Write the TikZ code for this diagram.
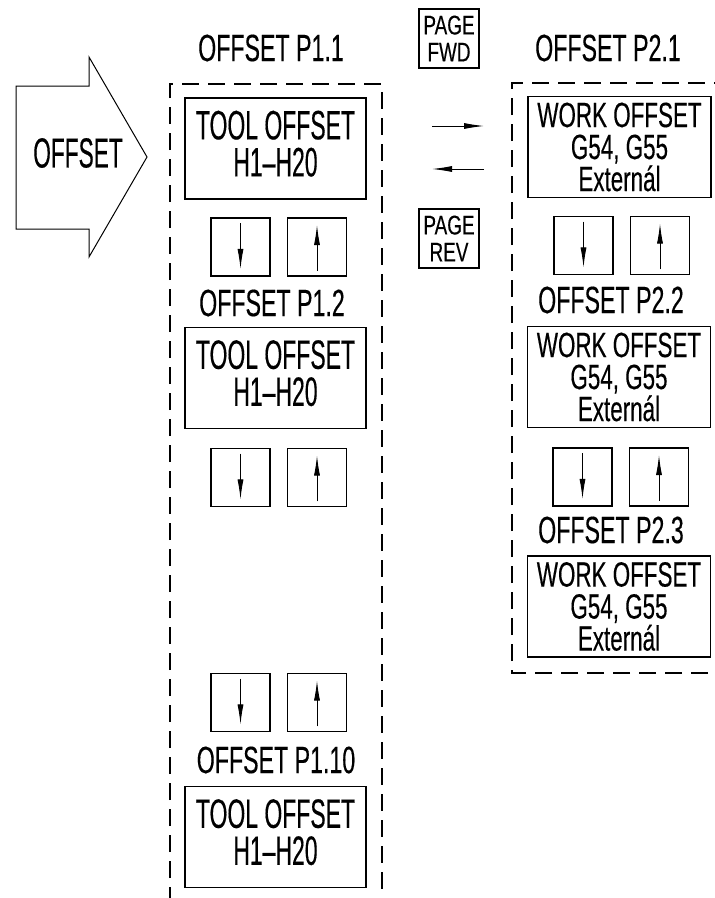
\documentclass[tikz,border=0pt]{standalone}
\usepackage{fontspec}
\setmainfont{Liberation Sans}
\newfontfamily\ftitle{Liberation Sans}[FakeStretch=0.61,FakeBold=0.3]
\newfontfamily\ftool{Liberation Sans}[FakeStretch=0.56,FakeBold=0.3]
\newfontfamily\fwork{Liberation Sans}[FakeStretch=0.64,FakeBold=0.3]
\newfontfamily\fpage{Liberation Sans}[FakeStretch=0.70,FakeBold=0.3]
\newfontfamily\fbig{Liberation Sans}[FakeStretch=0.54,FakeBold=0.3]
\usetikzlibrary{arrows.meta}
\newcommand\fsz[2]{\fontsize{#1}{#2}\selectfont}
\tikzset{
  title/.style={inner sep=0pt, font=\ftitle\fsz{38pt}{40pt}},
  bigtext/.style={inner sep=0pt, font=\fbig\fsz{42pt}{44pt}},
  toolbox/.style={draw, line width=1.8pt, minimum width=181pt, minimum height=101pt, inner sep=0pt, text depth=10pt, align=center, font=\ftool\fsz{41pt}{37pt}},
  workbox/.style={draw, line width=1.8pt, minimum width=183pt, minimum height=101pt, inner sep=0pt, align=center, font=\fwork\fsz{35pt}{32pt}},
  keybox/.style={draw, line width=1.8pt, minimum width=59pt, minimum height=58pt, inner sep=0pt},
  pagebox/.style={draw, line width=1.8pt, minimum width=60pt, minimum height=59pt, inner sep=0pt, align=center, font=\fpage\fsz{27pt}{27pt}},
  grp/.style={line width=1.5pt, dash pattern=on 17pt off 9pt},
  keyarrow/.style={line width=0.9pt, -{Latex[length=20pt,width=6pt]}},
  pagearrow/.style={line width=0.9pt, -{Latex[length=20pt,width=6pt]}},
}
\begin{document}
\begin{tikzpicture}[x=1pt,y=-1pt]
\clip (0,0) rectangle (715,898);
\fill[white] (0,0) rectangle (715,898);
% big OFFSET arrow
\draw[line width=1pt] (16,86) -- (89,86) -- (89,57) -- (147,157) -- (89,257) -- (89,229) -- (16,229) -- cycle;
\node[bigtext] (offs) at (78,153) {OFFSET};
% group frames
\draw[grp] (170,930) -- (170,84) -- (382,84) -- (382,930);
\draw[grp] (760,673) -- (512,673) -- (512,83) -- (760,83);
% left column
\node[title] (t11) at (271,48) {OFFSET P1.1};
\node[toolbox] (b11) at (275.5,148.5) {TOOL OFFSET\\H1–H20};
\node[keybox] (d11) at (240.5,247) {};
\node[keybox] (u11) at (317,247) {};
\node[title] (t12) at (272,303) {OFFSET P1.2};
\node[toolbox] (b12) at (275.5,378) {TOOL OFFSET\\H1–H20};
\node[keybox] (d12) at (240.5,477.5) {};
\node[keybox] (u12) at (317,477.5) {};
\node[keybox] (d13) at (240.5,702.5) {};
\node[keybox] (u13) at (317,702.5) {};
\node[title] (t110) at (276,760) {OFFSET P1.10};
\node[toolbox] (b110) at (275.5,837) {TOOL OFFSET\\H1–H20};
% right column
\node[title] (t21) at (608,48) {OFFSET P2.1};
\node[workbox] (b21) at (619.5,147) {WORK OFFSET\\G54, G55\\Externál};
\node[keybox] (d21) at (583.5,245.5) {};
\node[keybox] (u21) at (660,245.5) {};
\node[title] (t22) at (611,300) {OFFSET P2.2};
\node[workbox] (b22) at (619,377) {WORK OFFSET\\G54, G55\\Externál};
\node[keybox] (d22) at (582.5,477) {};
\node[keybox] (u22) at (659,477) {};
\node[title] (t23) at (611,530) {OFFSET P2.3};
\node[workbox] (b23) at (619,606.5) {WORK OFFSET\\G54, G55\\Externál};
% page keys
\node[pagebox] (fwd) at (449,38.5) {PAGE\\FWD};
\node[pagebox] (rev) at (449,238.5) {PAGE\\REV};
\coordinate (fa) at (432,126);
\coordinate (fb) at (484,126);
\coordinate (ra) at (484,169);
\coordinate (rb) at (432,169);
\draw[pagearrow] (fa) -- (fb);
\draw[pagearrow] (ra) -- (rb);
% key arrows
\foreach \k in {d11,d12,d13,d21,d22}{
  \draw[keyarrow] ([yshift=-6pt]\k.north) -- ([yshift=8pt]\k.south);
}
\foreach \k in {u11,u12,u13,u21,u22}{
  \draw[keyarrow] ([yshift=6pt]\k.south) -- ([yshift=-8pt]\k.north);
}
\end{tikzpicture}
\end{document}
